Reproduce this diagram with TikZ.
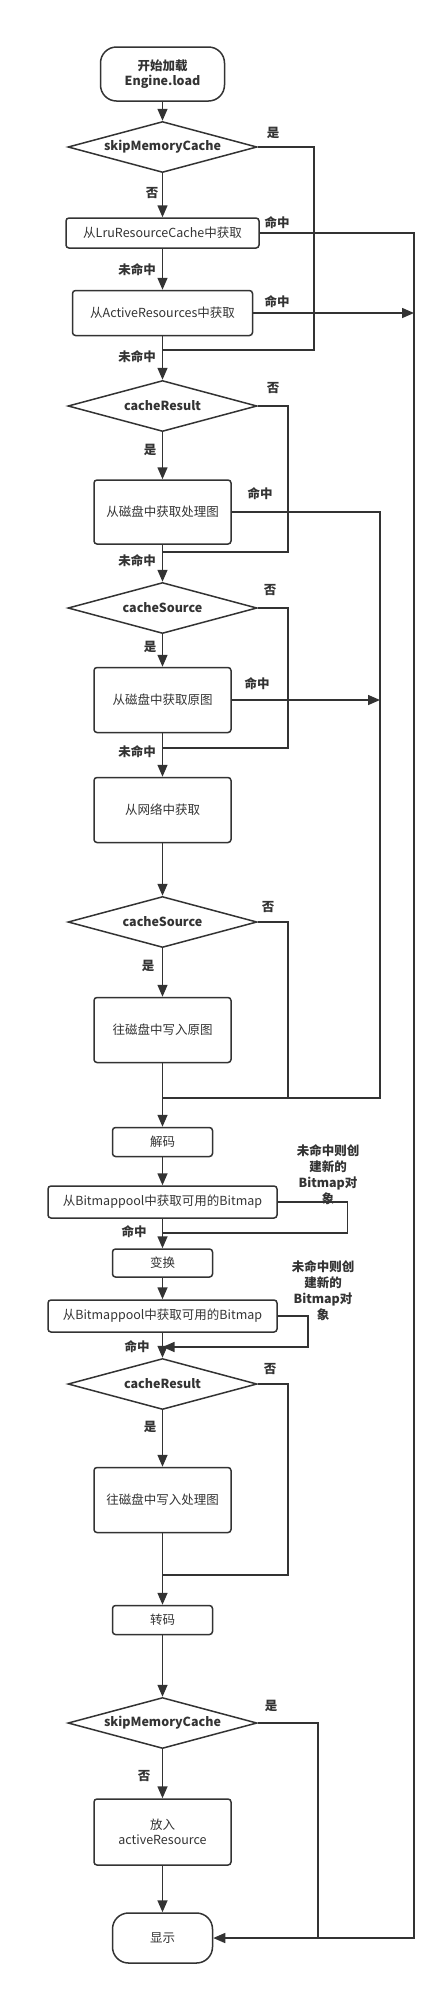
\documentclass[tikz,border=0pt]{standalone}
\usepackage{fontspec}
\setmainfont{Noto Sans CJK SC}
\usetikzlibrary{shapes.geometric,arrows.meta}
\definecolor{flowgray}{RGB}{51,51,51}

\begin{document}
\begin{tikzpicture}[x=1pt,y=-1pt,
    every node/.style={font=\fontsize{12.5}{15.5}\selectfont, text=flowgray},
    procbox/.style={draw=flowgray, line width=1.5pt, rounded corners=3pt, align=center, inner sep=0pt},
    termbox/.style={procbox, rounded corners=16pt, minimum width=100pt, minimum height=50pt},
    decision/.style={draw=flowgray, line width=1.5pt, diamond, aspect=3.7, minimum width=189pt, minimum height=51pt, inner sep=0pt, font=\fontsize{12.5}{15.5}\selectfont\bfseries},
    tag/.style={font=\fontsize{12.5}{16}\selectfont\bfseries, inner sep=0pt, align=center},
    conn/.style={draw=flowgray, line width=1.5pt},
    connarrow/.style={conn, -{Triangle[length=12pt,width=10pt]}}]
    \useasboundingbox (0,0) rectangle (446,1995);

    \node[termbox, minimum width=124pt, minimum height=54pt, font=\fontsize{12.5}{15.5}\selectfont\bfseries] (start) at (162.5,74) {开始加载\\Engine.load};
    \node[decision] (skip1) at (162.5,147) {skipMemoryCache};
    \node[procbox, minimum width=193pt, minimum height=30pt] (lru) at (162.5,233) {从LruResourceCache中获取};
    \node[procbox, minimum width=180pt, minimum height=45pt] (active) at (162.5,313) {从ActiveResources中获取};
    \node[decision] (result1) at (162.5,406) {cacheResult};
    \node[procbox, minimum width=137pt, minimum height=64pt] (diskresult) at (162.5,512) {从磁盘中获取处理图};
    \node[decision] (source1) at (162.5,608) {cacheSource};
    \node[procbox, minimum width=137pt, minimum height=65pt] (disksource) at (162.5,700) {从磁盘中获取原图};
    \node[procbox, minimum width=137pt, minimum height=65pt] (network) at (162.5,810) {从网络中获取};
    \node[decision] (source2) at (162.5,922) {cacheSource};
    \node[procbox, minimum width=137pt, minimum height=65pt] (writesource) at (162.5,1030) {往磁盘中写入原图};
    \node[procbox, minimum width=100pt, minimum height=29pt] (decode) at (162.5,1142) {解码};
    \node[procbox, minimum width=229pt, minimum height=32pt] (pool1) at (162.5,1202) {从Bitmappool中获取可用的Bitmap};
    \node[procbox, minimum width=100pt, minimum height=28pt] (transform) at (162.5,1263) {变换};
    \node[procbox, minimum width=229pt, minimum height=32pt] (pool2) at (162.5,1316) {从Bitmappool中获取可用的Bitmap};
    \node[decision] (result2) at (162.5,1384) {cacheResult};
    \node[procbox, minimum width=137pt, minimum height=65pt] (writeresult) at (162.5,1500) {往磁盘中写入处理图};
    \node[procbox, minimum width=100pt, minimum height=29pt] (transcode) at (162.5,1620) {转码};
    \node[decision] (skip2) at (162.5,1723) {skipMemoryCache};
    \node[procbox, minimum width=137pt, minimum height=66pt] (putactive) at (162.5,1832) {放入\\activeResource};
    \node[termbox] (show) at (162.5,1938) {显示};

    \coordinate (miss1) at (162.5,350);
    \coordinate (miss2) at (162.5,552);
    \coordinate (miss3) at (162.5,748);
    \coordinate (decodejoin) at (162.5,1098);
    \coordinate (hit1) at (162.5,1233);
    \coordinate (hit2) at (162.5,1347);
    \coordinate (resultjoin) at (162.5,1575);
    \coordinate (memtop) at (414,233);
    \coordinate (memmid) at (414,313);
    \coordinate (membottom) at (414,1938);
    \coordinate (disktop) at (380,512);
    \coordinate (diskmid) at (380,700);
    \coordinate (skipjoin) at (318,1938);

    \draw[connarrow] (start) -- (skip1);
    \draw[connarrow] (skip1) -- (lru);
    \draw[connarrow] (lru) -- (active);
    \draw[connarrow] (active) -- (result1);
    \draw[connarrow] (result1) -- (diskresult);
    \draw[connarrow] (diskresult) -- (source1);
    \draw[connarrow] (source1) -- (disksource);
    \draw[connarrow] (disksource) -- (network);
    \draw[connarrow] (network) -- (source2);
    \draw[connarrow] (source2) -- (writesource);
    \draw[connarrow] (writesource) -- (decode);
    \draw[connarrow] (decode) -- (pool1);
    \draw[connarrow] (pool1) -- (transform);
    \draw[connarrow] (transform) -- (pool2);
    \draw[connarrow] (pool2) -- (result2);
    \draw[connarrow] (result2) -- (writeresult);
    \draw[connarrow] (writeresult) -- (transcode);
    \draw[connarrow] (transcode) -- (skip2);
    \draw[connarrow] (skip2) -- (putactive);
    \draw[connarrow] (putactive) -- (show);

    \draw[conn] (skip1.east) -- ++(56,0) |- (miss1);
    \draw[connarrow] (lru.east) -- (memtop) -- (membottom) -- (show.east);
    \draw[connarrow] (active.east) -- (memmid);
    \draw[conn] (result1.east) -- ++(30,0) |- (miss2);
    \draw[conn] (diskresult.east) -- (disktop) |- (decodejoin);
    \draw[conn] (source1.east) -- ++(30,0) |- (miss3);
    \draw[connarrow] (disksource.east) -- (diskmid);
    \draw[conn] (source2.east) -- ++(30,0) |- (decodejoin);
    \draw[conn] (pool1.east) -- ++(69.5,0) |- (hit1);
    \draw[connarrow] (pool2.east) -- ++(30,0) |- (hit2);
    \draw[conn] (result2.east) -- ++(30,0) |- (resultjoin);
    \draw[conn] (skip2.east) -| (skipjoin);

    \node[tag] (yes1) at (273,133) {是};
    \node[tag] (no1) at (152,193) {否};
    \node[tag] (lruhit) at (277,223) {命中};
    \node[tag] (lrumiss) at (137,270) {未命中};
    \node[tag] (activehit) at (277,302) {命中};
    \node[tag] (activemiss) at (137,357) {未命中};
    \node[tag] (no2) at (273,388) {否};
    \node[tag] (yes2) at (150,450) {是};
    \node[tag] (resulthit) at (260,494) {命中};
    \node[tag] (resultmiss) at (137,561) {未命中};
    \node[tag] (no3) at (270,590) {否};
    \node[tag] (yes3) at (150,647) {是};
    \node[tag] (sourcehit) at (257,684) {命中};
    \node[tag] (sourcemiss) at (137,752) {未命中};
    \node[tag] (no4) at (268,907) {否};
    \node[tag] (yes4) at (148,966) {是};
    \node[tag] (newbitmap1) at (328,1175) {未命中则创\\建新的\\Bitmap对\\象};
    \node[tag] (poolhit1) at (134,1232) {命中};
    \node[tag] (newbitmap2) at (323,1291) {未命中则创\\建新的\\Bitmap对\\象};
    \node[tag] (poolhit2) at (137,1347) {命中};
    \node[tag] (no5) at (270,1369) {否};
    \node[tag] (yes5) at (150,1427) {是};
    \node[tag] (yes6) at (271,1706) {是};
    \node[tag] (no6) at (144,1776) {否};
\end{tikzpicture}
\end{document}
